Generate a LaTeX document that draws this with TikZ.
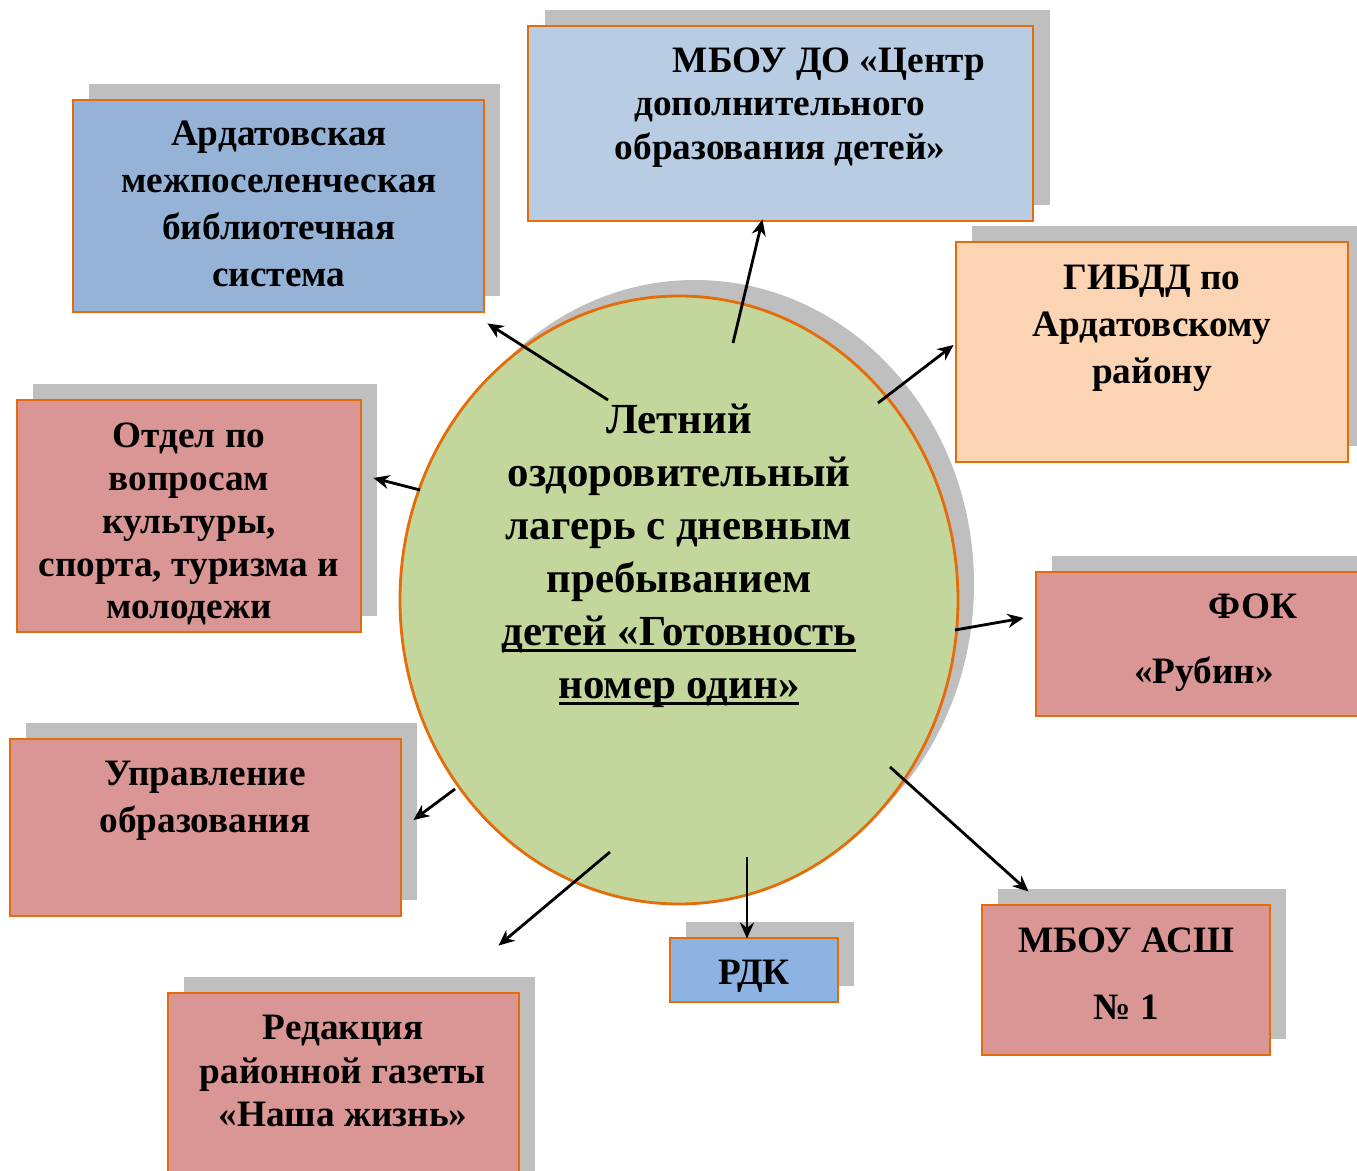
\documentclass[tikz,border=0pt]{standalone}
\usepackage{fontspec}
\setmainfont{Liberation Serif}
\usetikzlibrary{shapes.geometric,arrows.meta,positioning}

\definecolor{campgreen}{HTML}{C3D69B}
\definecolor{edgeorange}{HTML}{E46C0A}
\definecolor{shade}{HTML}{BFBFBF}
\definecolor{blueA}{HTML}{95B3D7}
\definecolor{blueB}{HTML}{B8CCE4}
\definecolor{blueC}{HTML}{8DB3E2}
\definecolor{peach}{HTML}{FBD4B4}
\definecolor{rose}{HTML}{D99694}

% thick underline, close to the baseline
\newcommand{\campline}[1]{\setbox0\hbox{#1}\rlap{\rule[-0.65mm]{\wd0}{0.3mm}}\box0}

\tikzset{
  orgbox/.style={draw=edgeorange, line width=0.8pt, inner sep=0pt},
  shadebox/.style={fill=shade, inner sep=0pt},
  lbl/.style={font=\bfseries\fontsize{10.6}{#1}\selectfont, align=center, anchor=north, inner sep=0pt},
  lbl/.default=13.4pt,
  arr/.style={-{Stealth[length=1.6mm,width=1.4mm]}, line width=0.8pt},
}

\begin{document}
\begin{tikzpicture}[x=0.1mm,y=-0.1mm]
    \useasboundingbox (0,0) rectangle (1357,1171);
    \clip (0,0) rectangle (1357,1171);

    % shadows
    \node[shadebox, minimum width=41.1mm, minimum height=21.2mm] at (294.5,190) {};
    \node[shadebox, minimum width=50.5mm, minimum height=19.5mm] at (797.5,107.5) {};
    \node[shadebox, minimum width=39.2mm, minimum height=22mm] at (1168,336) {};
    \node[shadebox, minimum width=34.4mm, minimum height=23.2mm] at (205,500) {};
    \node[shadebox, minimum width=33.6mm, minimum height=14.4mm] at (1220,628) {};
    \node[shadebox, minimum width=39.1mm, minimum height=17.7mm] at (221.5,811.5) {};
    \node[shadebox, minimum width=35.1mm, minimum height=19.7mm] at (359.5,1075.5) {};
    \node[shadebox, minimum width=16.8mm, minimum height=6.4mm] at (770,954) {};
    \node[shadebox, minimum width=28.8mm, minimum height=15mm] at (1142,964) {};
    \node[ellipse, fill=shade, inner sep=0pt, minimum width=55.8mm, minimum height=60.8mm] at (695,584) {};

    % camp
    \node[ellipse, draw=edgeorange, line width=0.8pt, fill=campgreen, inner sep=0pt,
          minimum width=55.8mm, minimum height=60.8mm] (camp) at (679,600) {};
    \node[lbl, font=\bfseries\fontsize{12.2}{15.1pt}\selectfont] (camptxt) at (679,403)
      {Летний\\оздоровительный\\лагерь с дневным\\пребыванием\\
       \campline{детей «Готовность}\\\campline{номер один»}};

    % partners
    \node[orgbox, fill=blueA, minimum width=41.1mm, minimum height=21.2mm] (bib) at (278.5,206) {};
    \node[lbl] (bibtxt) at (279,120) {Ардатовская\\межпоселенческая\\библиотечная\\система};

    \node[orgbox, fill=blueB, minimum width=50.5mm, minimum height=19.5mm] (dop) at (780.5,123.5) {};
    \node[lbl=12.4pt] (doptxt) at (780,47) {\hspace*{9.8mm}МБОУ ДО «Центр\\дополнительного\\образования детей»};

    \node[orgbox, fill=peach, minimum width=39.2mm, minimum height=22mm] (gibdd) at (1152,352) {};
    \node[lbl] (gibddtxt) at (1152,264) {ГИБДД по\\Ардатовскому\\району};

    \node[orgbox, fill=rose, minimum width=34.4mm, minimum height=23.2mm] (otdel) at (189,516) {};
    \node[lbl=12.2pt] (otdeltxt) at (189,422) {Отдел по\\вопросам\\культуры,\\спорта, туризма и\\молодежи};

    \node[orgbox, fill=rose, minimum width=33.6mm, minimum height=14.4mm] (fok) at (1204,644) {};
    \node[lbl] (foktxt) at (1204,593) {\hspace*{9.8mm}ФОК\\[1.8mm]«Рубин»};

    \node[orgbox, fill=rose, minimum width=39.1mm, minimum height=17.7mm] (upr) at (205.5,827.5) {};
    \node[lbl] (uprtxt) at (205,760) {Управление\\образования};

    \node[orgbox, fill=rose, minimum width=35.1mm, minimum height=19.7mm] (gazeta) at (343.5,1091.5) {};
    \node[lbl=12.5pt] (gazetatxt) at (343,1014) {Редакция\\районной газеты\\«Наша жизнь»};

    \node[orgbox, fill=blueC, minimum width=16.8mm, minimum height=6.4mm] (rdk) at (754,970) {};
    \node[lbl] (rdktxt) at (754,959) {РДК};

    \node[orgbox, fill=rose, minimum width=28.8mm, minimum height=15mm] (ash) at (1126,980) {};
    \node[lbl] (ashtxt) at (1126,927) {МБОУ АСШ\\[2mm]№ 1};

    % arrows
    \coordinate (s1) at (608,400);
    \coordinate (s2) at (733,343);
    \coordinate (s3) at (878,403);
    \coordinate (s4) at (420,490);
    \coordinate (s5) at (955,630);
    \coordinate (s6) at (455,789);
    \coordinate (s7) at (610,852);
    \coordinate (s8) at (747,857);
    \coordinate (s9) at (890,767);
    \draw[arr] (s1) -- ([shift={(2,10)}]bib.south east);
    \draw[arr] (s2) -- ([shift={(-18,-3)}]dop.south);
    \draw[arr] (s3) -- ([shift={(-1,-7)}]gibdd.west);
    \draw[arr] (s4) -- ([shift={(11,-38)}]otdel.east);
    \draw[arr] (s5) -- ([shift={(-11,-26)}]fok.west);
    \draw[arr] (s6) -- ([shift={(11,-7.5)}]upr.east);
    \draw[arr] (s7) -- ([shift={(155,-46)}]gazeta.north);
    \draw[arr] (s8) -- ([shift={(-7,2)}]rdk.north);
    \draw[arr] (s9) -- ([shift={(48,-12)}]ash.north west);
\end{tikzpicture}
\end{document}
